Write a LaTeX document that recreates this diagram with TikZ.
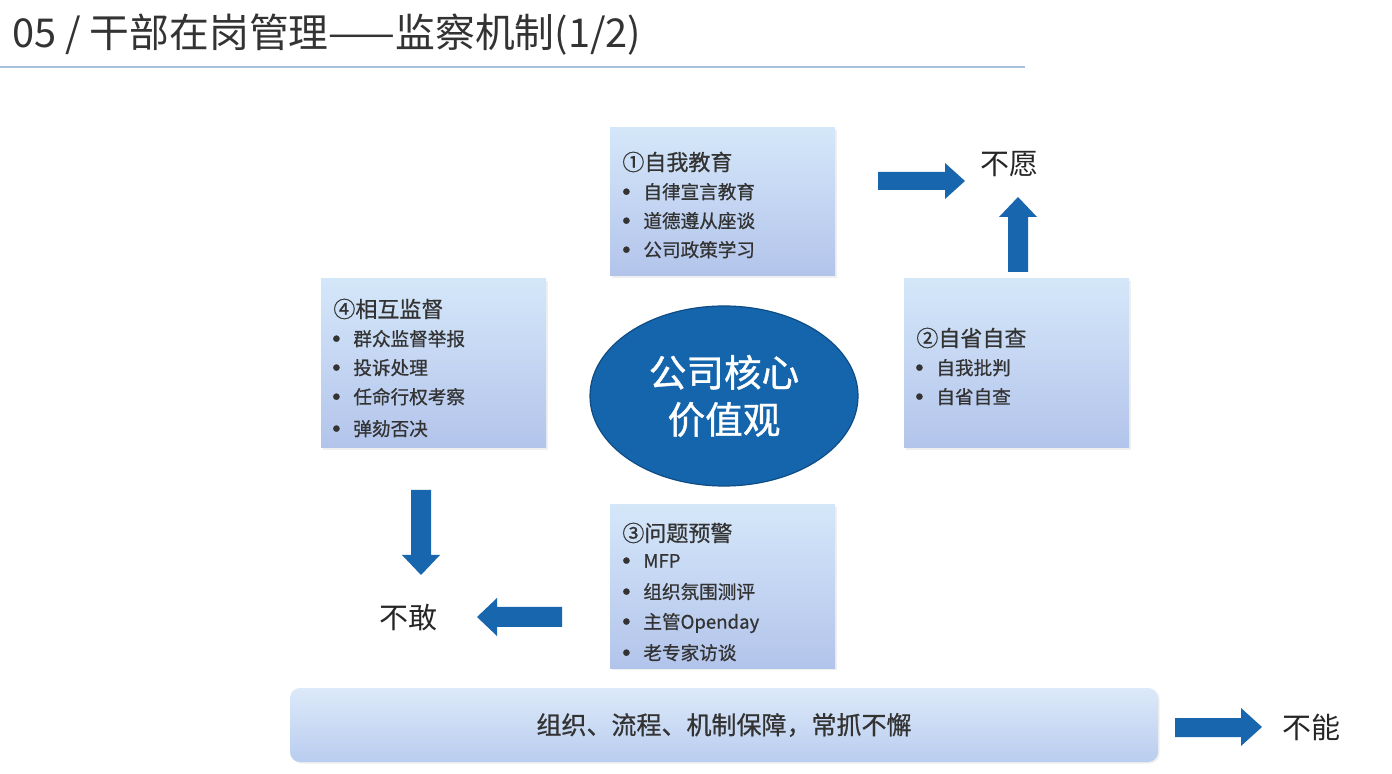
\documentclass[tikz,border=0pt]{standalone}
\usepackage{fontspec}
\setmainfont{Noto Sans CJK SC}
\newfontfamily\semib[FakeBold=0.7]{Noto Sans CJK SC}
\newfontfamily\coref[FakeBold=1.0]{Noto Sans CJK SC}
\usetikzlibrary{shapes.geometric,shadows}
\definecolor{boxtop}{HTML}{D4E7F9}
\definecolor{boxbot}{HTML}{B3C4EB}
\definecolor{bartop}{HTML}{DCE9F9}
\definecolor{barbot}{HTML}{B9CDEF}
\definecolor{arrowblue}{HTML}{1766AE}
\definecolor{txt}{HTML}{333333}
\definecolor{coreblue}{HTML}{1565AD}
\definecolor{coreedge}{HTML}{0E4C84}
\definecolor{rulecol}{HTML}{A8C2DE}
\newcommand\bul{\llap{\makebox[17pt][c]{\raisebox{-2.1pt}{\scalebox{1.6}{•}}}}}
\begin{document}
\begin{tikzpicture}[x=0.5pt,y=-0.5pt,
  panel/.style={rectangle, inner sep=0, top color=boxtop, bottom color=boxbot, draw=none,
                drop shadow={opacity=0.12, shadow xshift=0.8pt, shadow yshift=-0.8pt}},
  ptitle/.style={anchor=west, inner sep=0, font=\semib\fontsize{11}{13}\selectfont, text=txt},
  pitem/.style={anchor=west, inner sep=0, font=\semib\fontsize{9.3}{11}\selectfont, text=txt},
  blabel/.style={inner sep=0, font=\fontsize{14.5}{17}\selectfont, text=black!85},
  barrow/.style={fill=arrowblue, draw=none}]
\fill[white] (0,0) rectangle (1392,774);
\useasboundingbox (0,0) rectangle (1392,774);

% title
\node[anchor=west, inner sep=0, font=\fontsize{19.9}{23}\selectfont, text=txt] (title) at (12,35) {05 / 干部在岗管理——监察机制(1/2)};
\draw[rulecol, line width=1pt] (0,67) -- (1025,67);

% panels
\node[panel, minimum width=112.5pt, minimum height=74pt] (p1) at (722.5,202) {};
\node[panel, minimum width=112.5pt, minimum height=84.5pt] (p4) at (433.5,363.5) {};
\node[panel, minimum width=112.5pt, minimum height=84.5pt] (p2) at (1016.5,363.5) {};
\node[panel, minimum width=112.5pt, minimum height=81.5pt] (p3) at (722.5,586.5) {};

% panel 1
\node[ptitle] (p1t) at (622,162) {①自我教育};
\node[pitem] (p1a) at (643,193) {\bul 自律宣言教育};
\node[pitem] (p1b) at (643,222) {\bul 道德遵从座谈};
\node[pitem] (p1c) at (643,251) {\bul 公司政策学习};

% panel 4
\node[ptitle] (p4t) at (333,309) {④相互监督};
\node[pitem] (p4a) at (353,340) {\bul 群众监督举报};
\node[pitem] (p4b) at (353,369) {\bul 投诉处理};
\node[pitem] (p4c) at (353,398) {\bul 任命行权考察};
\node[pitem] (p4d) at (353,430) {\bul 弹劾否决};

% panel 2
\node[ptitle] (p2t) at (916,338) {②自省自查};
\node[pitem] (p2a) at (936,369) {\bul 自我批判};
\node[pitem] (p2b) at (936,398) {\bul 自省自查};

% panel 3
\node[ptitle] (p3t) at (622,533) {③问题预警};
\node[pitem] (p3a) at (643,563) {\bul MFP};
\node[pitem] (p3b) at (643,593) {\bul 组织氛围测评};
\node[pitem] (p3c) at (643,623) {\bul 主管Openday};
\node[pitem] (p3d) at (643,654) {\bul 老专家访谈};

% core ellipse
\node[ellipse, fill=coreblue, draw=coreedge, line width=0.6pt, minimum width=134pt, minimum height=90pt,
      inner sep=0, text=white, align=center, font=\coref\fontsize{18.8}{23.5}\selectfont] (core) at (724,396) {公司核心\\价值观};

% bottom bar
\node[rectangle, rounded corners=5pt, top color=bartop, bottom color=barbot, draw=none,
      drop shadow={opacity=0.12, shadow xshift=0.8pt, shadow yshift=-0.8pt},
      minimum width=434pt, minimum height=37pt, inner sep=0, text=txt,
      font=\semib\fontsize{12.5}{15}\selectfont] (bar) at (724,725) {组织、流程、机制保障，常抓不懈};

% labels
\node[blabel] (ly) at (1009,164) {不愿};
\node[blabel] (lg) at (408,618) {不敢};
\node[blabel] (ln) at (1311,727) {不能};

% block arrows
\fill[barrow] (878,172) -- (945,172) -- (945,163) -- (965,181) -- (945,199) -- (945,190) -- (878,190) -- cycle;
\fill[barrow] (1008,272) -- (1008,217) -- (999,217) -- (1018,197) -- (1037,217) -- (1028,217) -- (1028,272) -- cycle;
\fill[barrow] (411,490) -- (411,555) -- (402,555) -- (421,575) -- (440,555) -- (431,555) -- (431,490) -- cycle;
\fill[barrow] (562,607) -- (497,607) -- (497,598) -- (477,617) -- (497,636) -- (497,627) -- (562,627) -- cycle;
\fill[barrow] (1175,718) -- (1241,718) -- (1241,708) -- (1262,727) -- (1241,746) -- (1241,737) -- (1175,737) -- cycle;
\end{tikzpicture}
\end{document}
